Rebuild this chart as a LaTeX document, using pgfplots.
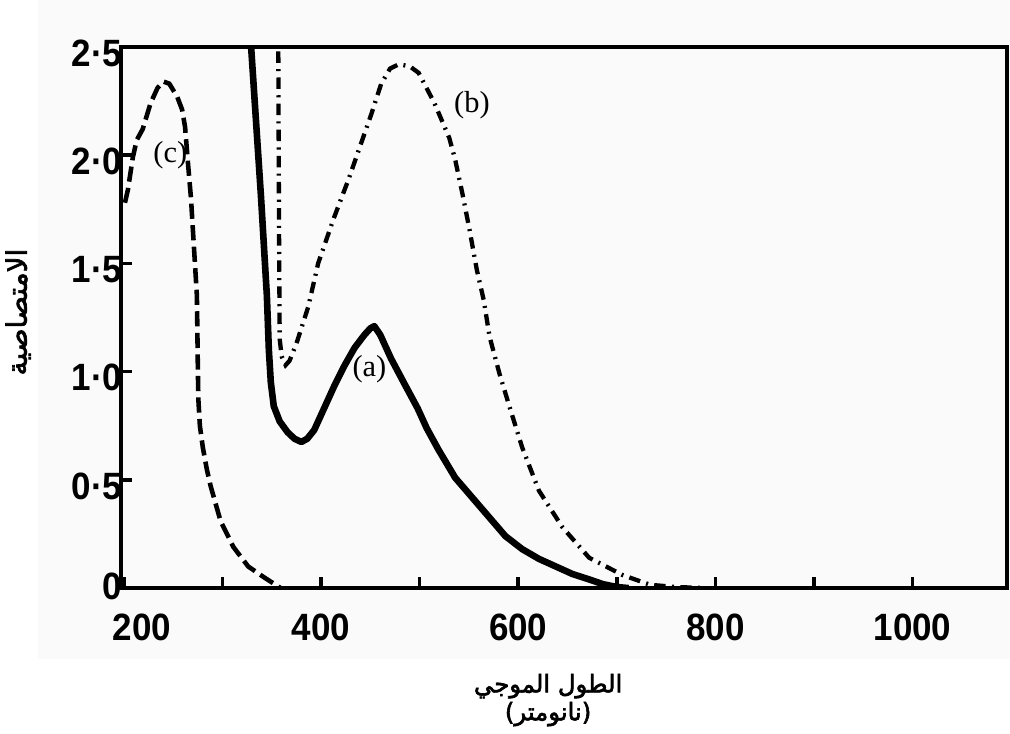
\documentclass[border=0pt]{standalone}
\usepackage{fontspec}
\usepackage{pgfplots}
\pgfplotsset{compat=1.18}
\setmainfont{Liberation Serif}
\newfontfamily\tickfont[FakeStretch=0.92]{Liberation Sans}
\newfontfamily\arabicfont[Script=Arabic,FakeBold=2.5]{DejaVu Sans}
\TeXXeTstate=1
\begin{document}
\begin{tikzpicture}
\fill[black!2] (-1.15cm,-0.98cm) rectangle (12.32cm,8.15cm);
\begin{axis}[
  width=12.28cm, height=7.50cm, scale only axis,
  xmin=197, xmax=1096, ymin=0, ymax=2.5,
  axis line style={line width=1.8pt},
  xtick={200,300,...,1000},
  xticklabels={\hspace{0.5cm}200,,400,,600,,800,,1000},
  ytick={0,0.5,1,1.5,2,2.5},
  yticklabels={\raisebox{6pt}{0},0·5,1·0,1·5,2·0,2·5},
  tick style={line width=1.4pt, black},
  major tick length=4.5pt,
  xtick pos=bottom, ytick pos=left, tick align=inside,
  ticklabel style={font=\tickfont\bfseries\fontsize{15}{15}\selectfont},
  xticklabel style={yshift=-6.5pt},
  yticklabel style={xshift=4pt,yshift=-2.4pt},
  xlabel={\beginR الطول الموجي\endR\\\beginR(نانومتر)\endR},
  xlabel style={at={(axis description cs:0.482,-0.207)}, anchor=center, align=center,
    font=\arabicfont\fontsize{9.6}{11}\selectfont},
  ylabel={\beginR الامتصاصية\endR},
  ylabel style={at={(axis description cs:-0.116,0.51)}, anchor=center,
    font=\arabicfont\fontsize{11}{12}\selectfont},
]
% (a) solid
\addplot[black, line width=2.6pt, line join=round] coordinates {
(322,2.75) (329,2.5) (339,1.81) (345,1.35) (347,1.10) (349,0.95) (352,0.84)
(358,0.77) (366,0.72) (373,0.69) (380,0.675) (386,0.69) (393,0.73) (403,0.83)
(413,0.93) (424,1.03) (434,1.11) (444,1.17) (450,1.20) (454,1.21) (460,1.17)
(471,1.06) (485,0.94) (498,0.83) (507,0.74) (519,0.64) (536,0.51) (553,0.42)
(570,0.33) (587,0.24) (604,0.18) (621,0.135) (638,0.10) (655,0.065) (672,0.04)
(686,0.018) (700,0.005) (712,0)
};
% (b) dash-dot
\addplot[black, line width=1.7pt, dash pattern=on 4.5pt off 2.5pt on 0.8pt off 2.5pt] coordinates {
(356.5,2.6) (357,2.0) (357.5,1.5) (358,1.15) (360,1.07) (364,1.03) (368,1.05)
(375,1.13) (387,1.30) (397,1.50) (413,1.71) (428,1.89) (441,2.06) (451,2.19)
(461,2.33) (470,2.40) (479,2.42) (490,2.41) (499,2.38) (515,2.24) (530,2.08)
(536,1.98) (543,1.83) (550,1.67) (558,1.47) (565,1.33) (571,1.16) (581,0.99)
(591,0.84) (604,0.65) (621,0.45) (645,0.28) (672,0.14) (706,0.06) (734,0.015)
(760,0.005) (790,0)
};
% (c) dashed
\addplot[black, line width=1.8pt, dash pattern=on 6pt off 2.5pt] coordinates {
(201,1.78) (204,1.84) (209,1.99) (213,2.07) (219,2.12) (227,2.24) (234,2.31)
(240,2.34) (246,2.33) (254,2.27) (259,2.21) (262,2.13) (265,1.96) (268,1.80)
(270,1.65) (272,1.50) (274,1.35) (274.5,1.18) (275,1.00) (275.5,0.87) (277,0.75)
(280,0.65) (284,0.55) (288,0.47) (298,0.31) (311,0.19) (326,0.10) (342,0.05)
(359,0)
};
\node[font=\fontsize{12}{12}\selectfont] at (axis cs:449,1.01) {(a)};
\node[font=\fontsize{12}{12}\selectfont] at (axis cs:553,2.23) {(b)};
\node[font=\fontsize{12}{12}\selectfont] at (axis cs:247,2.00) {(c)};
\end{axis}
\pgfresetboundingbox
\path[use as bounding box] (-1.677cm,-2.01cm) rectangle (12.32cm,8.15cm);
\end{tikzpicture}
\end{document}
